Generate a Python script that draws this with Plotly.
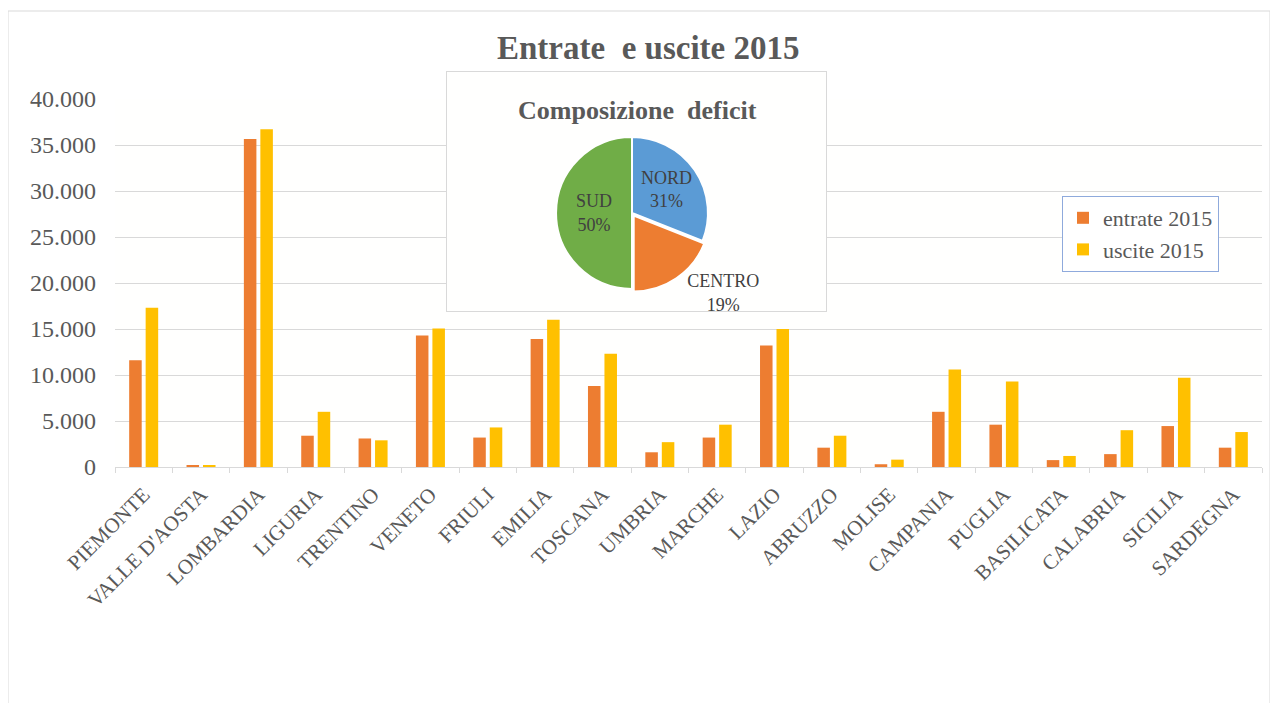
import plotly.graph_objects as go

W, H = 1278, 703

regioni = ["PIEMONTE", "VALLE D'AOSTA", "LOMBARDIA", "LIGURIA", "TRENTINO", "VENETO",
           "FRIULI", "EMILIA", "TOSCANA", "UMBRIA", "MARCHE", "LAZIO", "ABRUZZO",
           "MOLISE", "CAMPANIA", "PUGLIA", "BASILICATA", "CALABRIA", "SICILIA", "SARDEGNA"]
entrate_2015 = [11600, 200, 35650, 3400, 3100, 14300, 3200, 13900, 8800, 1600,
                3200, 13200, 2100, 300, 6000, 4600, 750, 1400, 4450, 2100]
uscite_2015 = [17300, 150, 36700, 6000, 2900, 15050, 4300, 16000, 12300, 2700,
               4600, 15000, 3400, 800, 10600, 9300, 1200, 4000, 9700, 3800]

aree = ["NORD", "CENTRO", "SUD"]
quote_deficit = [31, 19, 50]

y_ticks = [0, 5000, 10000, 15000, 20000, 25000, 30000, 35000, 40000]

SERIF = "Liberation Serif, Times New Roman, serif"
GREY = "#595959"
OFF = 8  # page body margin in the browser


def px_x(p):
    return (p - OFF) / W


def px_y(p):
    return 1 - (p - OFF) / H


fig = go.Figure()
fig.add_trace(go.Bar(name="entrate 2015", x=regioni, y=entrate_2015,
                     marker=dict(color="#ED7D31", line=dict(width=0))))
fig.add_trace(go.Bar(name="uscite 2015", x=regioni, y=uscite_2015,
                     marker=dict(color="#FFC000", line=dict(width=0))))

# empty trace to hold the inset frame subplot
fig.add_trace(go.Scatter(x=[], y=[], xaxis="x2", yaxis="y2", showlegend=False))

fig.add_trace(go.Pie(
    labels=aree, values=quote_deficit, sort=False, direction="clockwise", rotation=0,
    marker=dict(colors=["#5B9BD5", "#ED7D31", "#70AD47"], line=dict(color="white", width=2)),
    pull=[0, 0.04, 0],
    texttemplate="%{label}<br>%{percent:.0%}",
    textposition=["inside", "outside", "inside"],
    insidetextorientation="horizontal",
    textfont=dict(family=SERIF, size=18, color="#404040"),
    showlegend=False, hoverinfo="label+percent",
    domain=dict(x=[px_x(553), px_x(711)], y=[px_y(292), px_y(134)]),
))

fig.update_layout(
    width=W, height=H,
    margin=dict(l=0, r=0, t=0, b=0),
    paper_bgcolor="white", plot_bgcolor="#fffffe",
    separators=",.",
    barmode="group", bargap=0.425, bargroupgap=0.24,
    font=dict(family=SERIF, color=GREY),
    xaxis=dict(domain=[px_x(115), px_x(1262)], type="category",
               tickangle=-45, tickfont=dict(family=SERIF, size=21, color=GREY),
               showline=True, linecolor="#D9D9D9", linewidth=1,
               ticks="outside", tickson="boundaries", ticklen=5, tickcolor="#D9D9D9",
               ticklabelstandoff=6,
               showgrid=False, automargin=False),
    yaxis=dict(domain=[px_y(467), px_y(99)], range=[0, 40000], tickvals=y_ticks,
               tickformat=",d", tickfont=dict(family=SERIF, size=24, color=GREY),
               showgrid=True, gridcolor="#D9D9D9", gridwidth=1,
               zeroline=False, showline=False, ticks="", ticklabelstandoff=18,
               automargin=False),
    xaxis2=dict(domain=[px_x(447), px_x(826)], anchor="y2", range=[0, 1],
                showgrid=False, zeroline=False, showticklabels=False, ticks="",
                showline=True, mirror=True, linecolor="#D9D9D9", linewidth=1,
                fixedrange=True),
    yaxis2=dict(domain=[px_y(311), px_y(72)], anchor="x2", range=[0, 1],
                showgrid=False, zeroline=False, showticklabels=False, ticks="",
                showline=True, mirror=True, linecolor="#D9D9D9", linewidth=1,
                fixedrange=True),
    legend=dict(x=px_x(1062), y=px_y(196), xanchor="left", yanchor="top",
                bgcolor="white", bordercolor="#8FAADC", borderwidth=1,
                font=dict(family=SERIF, size=22, color=GREY),
                itemwidth=30, tracegroupgap=0),
    showlegend=True,
    annotations=[
        dict(text="<b>Entrate  e uscite 2015</b>", x=px_x(648), y=px_y(48),
             xref="paper", yref="paper", showarrow=False, yanchor="middle",
             font=dict(family=SERIF, size=33, color=GREY)),
        dict(text="<b>Composizione  deficit</b>", x=px_x(637), y=px_y(110),
             xref="paper", yref="paper", showarrow=False, yanchor="middle",
             font=dict(family=SERIF, size=26, color=GREY)),
    ],
    shapes=[
        dict(type="rect", xref="paper", yref="paper", x0=px_x(8), x1=px_x(1270),
             y0=-0.05, y1=px_y(11), line=dict(color="#D9D9D9", width=1), layer="below"),
    ],
)

fig.write_html("out.html")
